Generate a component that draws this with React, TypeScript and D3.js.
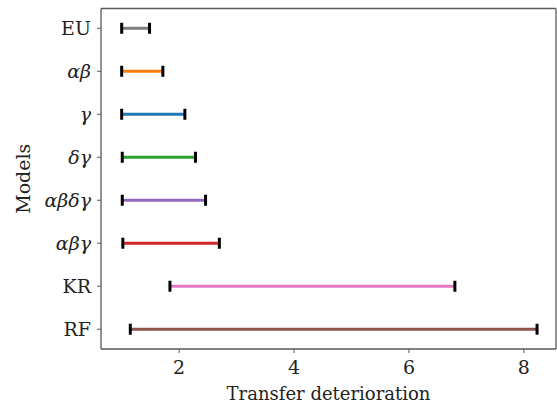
import React from "react";
import * as d3 from "d3";

const models = ["EU", "αβ", "γ", "δγ", "αβδγ", "αβγ", "KR", "RF"];
const lows = [1.0, 1.0, 1.0, 1.01, 1.01, 1.02, 1.84, 1.15];
const highs = [1.485, 1.717, 2.1, 2.285, 2.46, 2.7, 6.8, 8.23];
const colors = ["#7f7f7f", "#ff7f0e", "#1f77b4", "#2ca02c", "#9467bd", "#d62728", "#e377c2", "#8c564b"];
const xTicks = [2, 4, 6, 8];

const W = 557, H = 409;
const left = 101, right = 556, top = 8.5, bottom = 349;
const font = "DejaVu Serif";
const greek = new Set(["EU", "KR", "RF"]);

export default function App() {
  const x = d3.scaleLinear().domain([0.64, 8.56]).range([left, right]);
  const y = d3.scalePoint<string>().domain(models).range([top, bottom]).padding(0.46);
  const axisColor = "#595959";
  return (
    <svg width={W} height={H} style={{ position: "absolute", left: 0, top: 0 }}>
      <rect width={W} height={H} fill="white" />
      {models.map((m, i) => {
        const yy = y(m)!;
        return (
          <g key={m}>
            <line x1={x(lows[i])} x2={x(highs[i])} y1={yy} y2={yy} stroke={colors[i]} strokeWidth={3} />
            <line x1={x(lows[i])} x2={x(lows[i])} y1={yy - 5.5} y2={yy + 5.5} stroke="black" strokeWidth={3} />
            <line x1={x(highs[i])} x2={x(highs[i])} y1={yy - 5.5} y2={yy + 5.5} stroke="black" strokeWidth={3} />
          </g>
        );
      })}
      <line x1={left} x2={left} y1={top} y2={bottom} stroke={axisColor} strokeWidth={1.3} />
      <line x1={left} x2={right} y1={bottom} y2={bottom} stroke={axisColor} strokeWidth={1.3} />
      <line x1={left} x2={right} y1={top} y2={top} stroke={axisColor} strokeWidth={1.3} />
      <line x1={right} x2={right} y1={top} y2={bottom} stroke={axisColor} strokeWidth={1.3} />
      {models.map((m) => (
        <g key={"t" + m}>
          <line x1={left - 4} x2={left} y1={y(m)!} y2={y(m)!} stroke={axisColor} strokeWidth={1} />
          <text
            x={left - 10}
            y={y(m)!}
            dy="0.35em"
            textAnchor="end"
            fontFamily={font}
            fontSize={19}
            fontStyle={greek.has(m) ? "normal" : "italic"}
            fill="#222"
          >
            {m}
          </text>
        </g>
      ))}
      {xTicks.map((t) => (
        <g key={"x" + t}>
          <line x1={x(t)} x2={x(t)} y1={bottom} y2={bottom + 4} stroke={axisColor} strokeWidth={1} />
          <text x={x(t)} y={bottom + 25} textAnchor="middle" fontFamily={font} fontSize={19} fill="#222">
            {t}
          </text>
        </g>
      ))}
      <text x={(left + right) / 2} y={400} textAnchor="middle" fontFamily={font} fontSize={18} fill="#222">
        Transfer deterioration
      </text>
      <text
        transform={`translate(30,${(top + bottom) / 2}) rotate(-90)`}
        textAnchor="middle"
        fontFamily={font}
        fontSize={19}
        fill="#222"
      >
        Models
      </text>
    </svg>
  );
}
